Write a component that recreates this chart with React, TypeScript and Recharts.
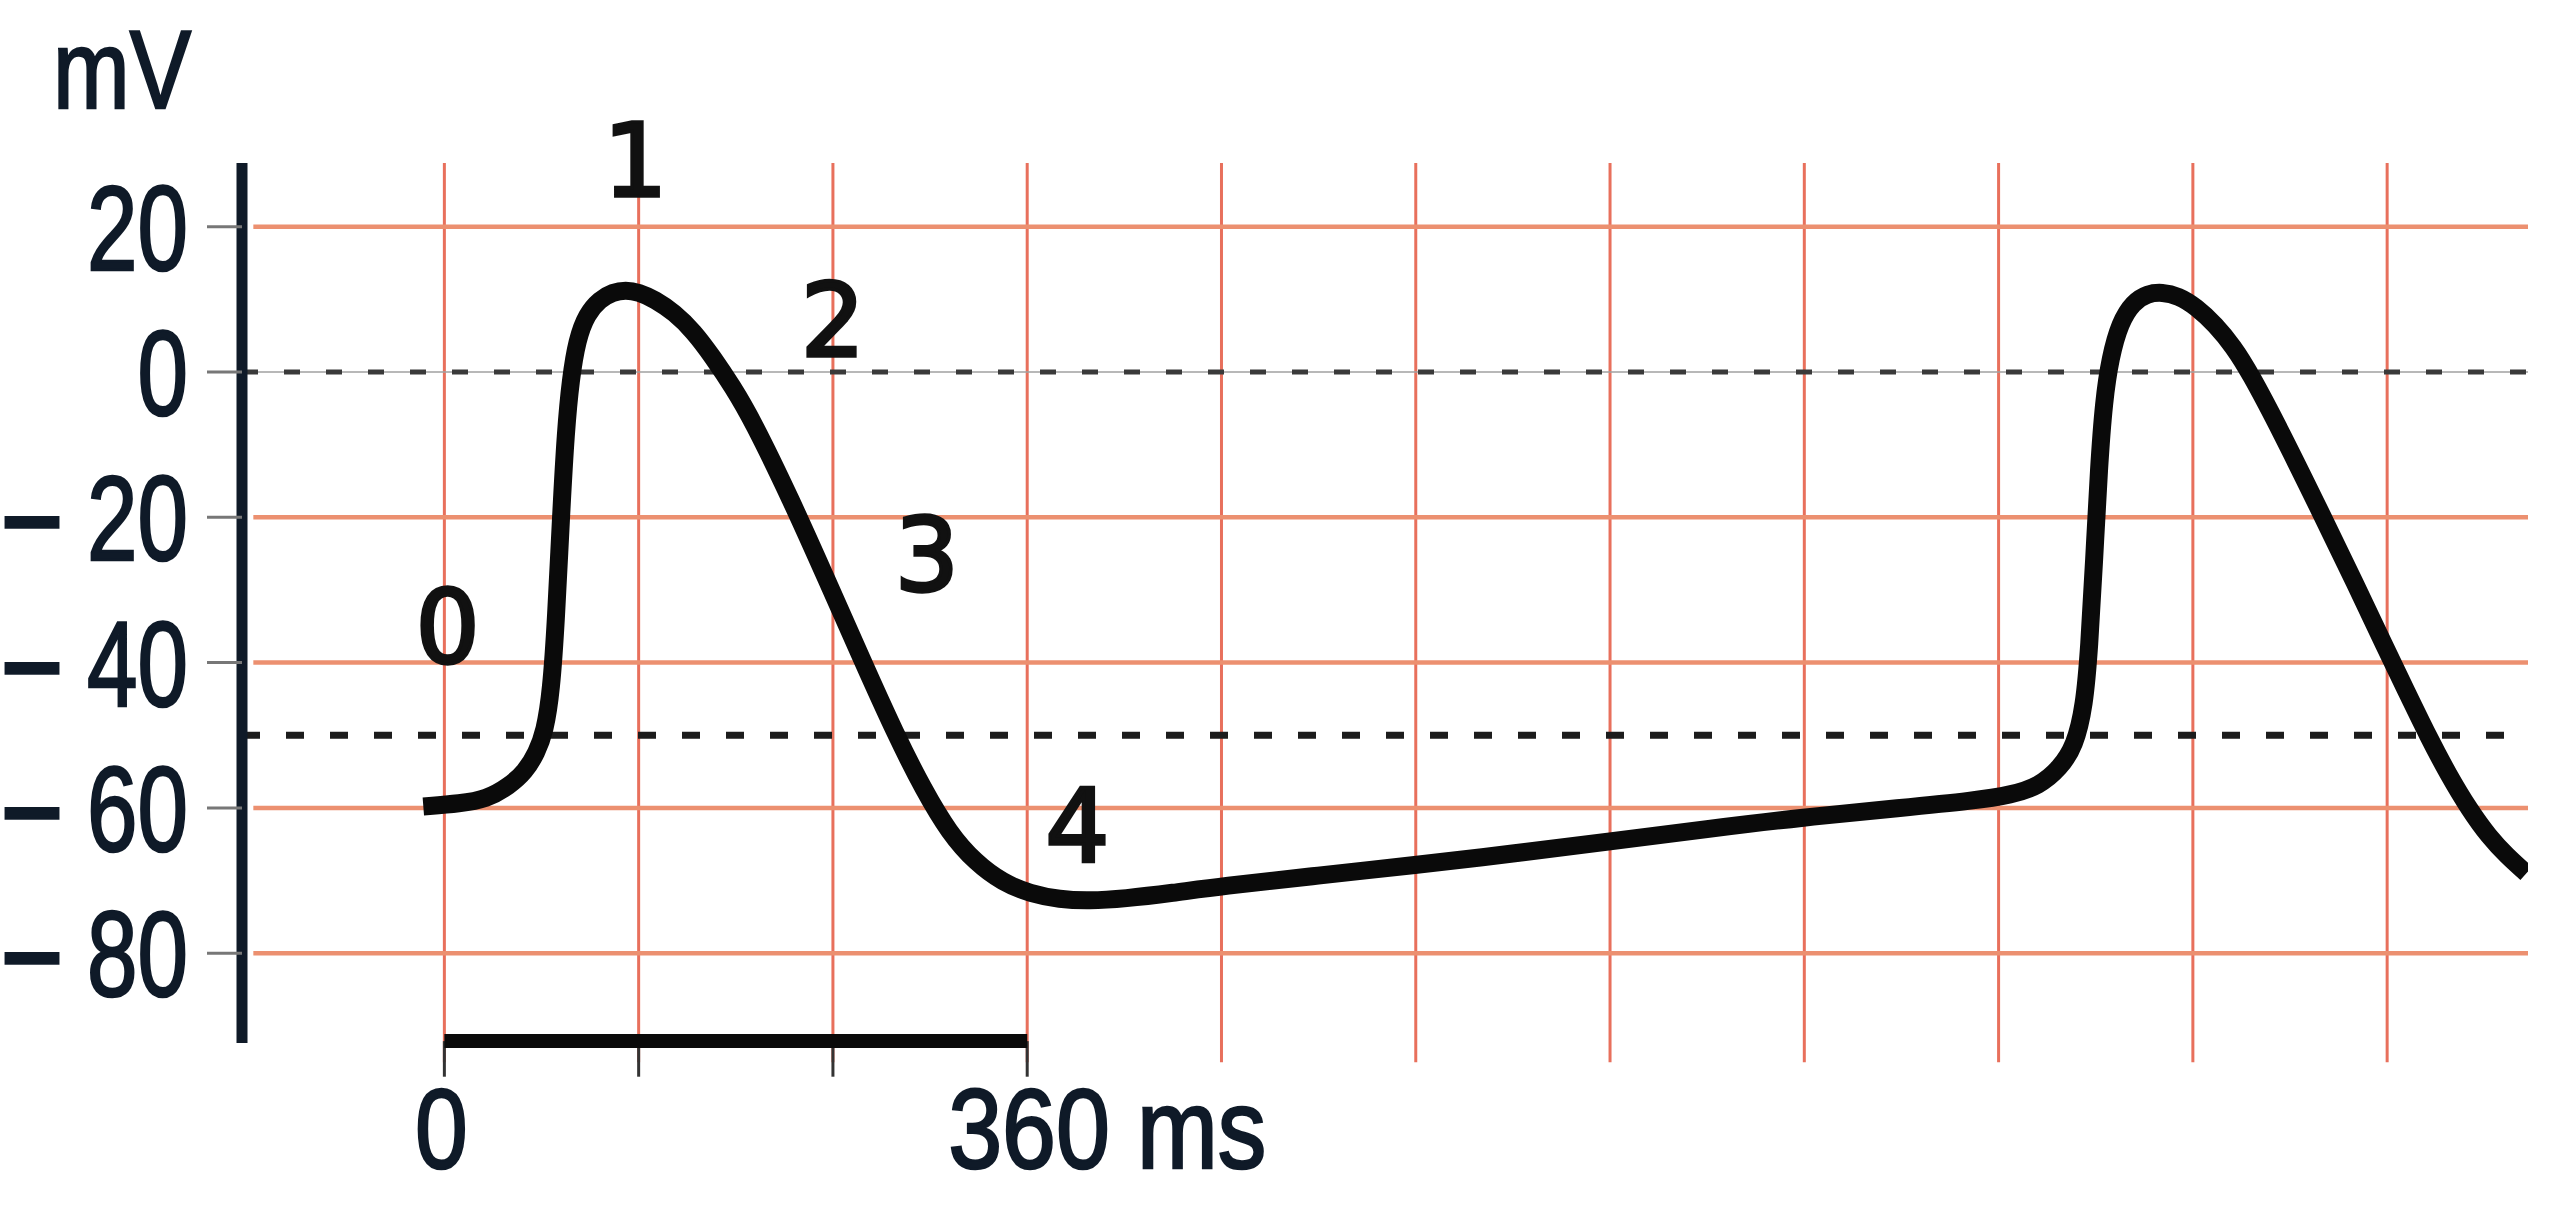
import React from 'react';
import { ComposedChart, Line, XAxis, YAxis, ReferenceLine, ReferenceDot } from 'recharts';

// ---- data (time in ms, membrane potential in mV) ----
const timeMs = [
  -13, 10, 26, 40, 50, 57, 62, 66, 69, 72, 75, 78, 82, 88, 96, 104, 112, 120, 130, 142,
  154, 166, 178, 190, 214, 236, 258, 279, 296, 312, 328, 345, 362, 380, 398, 420, 450,
  479, 540, 599, 660, 720, 780, 839, 900, 945, 968, 985, 998, 1007, 1013, 1016, 1019,
  1022, 1025, 1029, 1035, 1043, 1052, 1061, 1071, 1082, 1094, 1105, 1115, 1134, 1160,
  1180, 1199, 1212, 1225, 1238, 1251, 1263, 1274, 1286,
];
const voltageMv = [
  -59.8, -59.4, -58.8, -57, -55, -52.4, -49.5, -44, -34, -20, -8, -1, 4.5, 8, 10, 11,
  11.3, 11, 10, 8.2, 5.6, 2, -2, -6.5, -17.5, -28.5, -39.6, -50, -57.5, -63.5, -67.5,
  -70.3, -71.8, -72.6, -72.8, -72.5, -71.7, -70.8, -69.3, -67.9, -66.3, -64.6, -62.9,
  -61.3, -60, -59, -58.2, -57, -54.5, -51.5, -46, -38, -26, -13, -4, 2, 6.8, 9.6, 10.8,
  11, 10.5, 9, 6.5, 3.5, 0, -8, -19.8, -29, -38, -44, -50, -55.5, -60.3, -64, -66.6, -69,
];

const yTicks = [20, 0, -20, -40, -60, -80];
const xTicks = [0, 360];
const xTickUnit = 'ms';
const yUnit = 'mV';

const gridTimes = [0, 120, 240, 360, 480, 600, 720, 840, 960, 1080, 1200];
const gridVolts = [20, -20, -40, -60, -80];
const zeroLineMv = 0;
const thresholdMv = -50;

const scaleBarStart = 0;
const scaleBarEnd = 360;
const scaleBarTicks = [0, 120, 240, 360];

const phaseNames = ['0', '1', '2', '3', '4'];
const phaseTimes = [2, 118, 240, 298, 391];
const phaseVolts = [-35, 29.3, 7.3, -25, -62.4];

const X_DOMAIN: [number, number] = [-125, 1287];
const Y_DOMAIN: [number, number] = [-92.36, 28.77];
const GRID_TOP_MV = 28.77;
const GRID_BOTTOM_MV = -95;
const SCALE_BAR_MV = -92.1;
const SCALE_TICK_BOTTOM_MV = -97;
const GRID_LEFT_MS = -118;
const GRID_RIGHT_MS = 1287;

const data = timeMs.map((t, i) => ({ t, v: voltageMv[i] }));

const INK = '#0f1a28';
const H_GRID = '#ec9070';
const V_GRID = '#e8705c';
const SANS = "'Liberation Sans Narrow', 'Liberation Sans', Arial, sans-serif";

const YTick = (props: any) => {
  const { x, y, payload } = props;
  const val: number = payload.value;
  const digits = String(Math.abs(val));
  return (
    <g>
      {val < 0 && (
        <text
          x={x - 188}
          y={y + 44}
          fontFamily="'Liberation Sans', Arial, sans-serif"
          fontWeight="bold"
          fontSize={116}
          fill={INK}
          textLength={64}
          lengthAdjust="spacingAndGlyphs"
        >
          −
        </text>
      )}
      <text
        x={x}
        y={y + 43}
        textAnchor="end"
        fontFamily={SANS}
        fontSize={121}
        fill={INK}
        stroke={INK}
        strokeWidth={2.5}
        textLength={digits.length * 50.5}
        lengthAdjust="spacingAndGlyphs"
      >
        {digits}
      </text>
    </g>
  );
};

const XTick = (props: any) => {
  const { x, y, payload } = props;
  const val: number = payload.value;
  const digits = String(val);
  const isLast = val === xTicks[xTicks.length - 1];
  const digitsW = digits.length * 52.7;
  if (!isLast) {
    return (
      <text
        x={x - 3}
        y={y + 125}
        textAnchor="middle"
        fontFamily={SANS}
        fontSize={113}
        fill={INK}
        stroke={INK}
        strokeWidth={2.5}
        textLength={digitsW}
        lengthAdjust="spacingAndGlyphs"
      >
        {digits}
      </text>
    );
  }
  return (
    <text
      x={x - digitsW / 2}
      y={y + 125}
      textAnchor="start"
      fontFamily={SANS}
      fontSize={113}
      fill={INK}
      stroke={INK}
      strokeWidth={2.5}
      textLength={318}
      lengthAdjust="spacingAndGlyphs"
    >
      {`${digits} ${xTickUnit}`}
    </text>
  );
};

const phaseShape = (label: string) => (p: any) => (
  <text
    x={p.cx}
    y={p.cy + 37}
    textAnchor="middle"
    fontFamily="'DejaVu Sans', sans-serif"
    fontSize={101}
    fill="#111"
    stroke="#111"
    strokeWidth={3.5}
  >
    {label}
  </text>
);

export default function App() {
  return (
    <div style={{ position: 'absolute', left: 0, top: 0, width: 2560, height: 1212, background: '#fff' }}>
      <ComposedChart
        width={2560}
        height={1212}
        data={data}
        margin={{ top: 163, right: 32, bottom: 109, left: 0 }}
      >
        <XAxis
          dataKey="t"
          type="number"
          domain={X_DOMAIN}
          allowDataOverflow
          ticks={xTicks}
          axisLine={false}
          tickLine={false}
          tickSize={0}
          tickMargin={0}
          height={60}
          tick={<XTick />}
          interval={0}
        />
        <YAxis
          type="number"
          domain={Y_DOMAIN}
          allowDataOverflow
          ticks={yTicks}
          width={242}
          axisLine={{ stroke: INK, strokeWidth: 11 }}
          tickLine={{ stroke: '#777', strokeWidth: 3 }}
          tickSize={35}
          tickMargin={19}
          tick={<YTick />}
          interval={0}
        />

        {gridTimes.map((t) => (
          <ReferenceLine
            key={'vg' + t}
            segment={[{ x: t, y: GRID_TOP_MV }, { x: t, y: GRID_BOTTOM_MV }]}
            stroke={V_GRID}
            strokeWidth={3}
            ifOverflow="visible"
          />
        ))}
        {gridVolts.map((v) => (
          <ReferenceLine
            key={'hg' + v}
            segment={[{ x: GRID_LEFT_MS, y: v }, { x: GRID_RIGHT_MS, y: v }]}
            stroke={H_GRID}
            strokeWidth={4.5}
            ifOverflow="visible"
          />
        ))}
        <ReferenceLine
          segment={[{ x: X_DOMAIN[0], y: zeroLineMv }, { x: GRID_RIGHT_MS, y: zeroLineMv }]}
          stroke="#a0a0a0"
          strokeWidth={1.5}
          ifOverflow="visible"
        />
        <ReferenceLine
          segment={[{ x: X_DOMAIN[0], y: zeroLineMv }, { x: GRID_RIGHT_MS, y: zeroLineMv }]}
          stroke="#3a3a3a"
          strokeWidth={5}
          strokeDasharray="16 26"
          ifOverflow="visible"
        />
        <ReferenceLine
          segment={[{ x: X_DOMAIN[0], y: thresholdMv }, { x: GRID_RIGHT_MS, y: thresholdMv }]}
          stroke="#1c1c1c"
          strokeWidth={7}
          strokeDasharray="18 26"
          ifOverflow="visible"
        />

        {scaleBarTicks.map((t) => (
          <ReferenceLine
            key={'sbt' + t}
            segment={[{ x: t, y: SCALE_BAR_MV }, { x: t, y: SCALE_TICK_BOTTOM_MV }]}
            stroke="#333"
            strokeWidth={3}
            ifOverflow="visible"
          />
        ))}
        <ReferenceLine
          segment={[{ x: scaleBarStart, y: SCALE_BAR_MV }, { x: scaleBarEnd, y: SCALE_BAR_MV }]}
          stroke="#0a0a0a"
          strokeWidth={14}
          ifOverflow="visible"
        />

        <Line
          type="basis"
          dataKey="v"
          stroke="#0a0a0a"
          strokeWidth={18}
          strokeLinejoin="round"
          dot={false}
          activeDot={false}
          isAnimationActive={false}
        />

        {phaseNames.map((n, i) => (
          <ReferenceDot
            key={'ph' + n}
            x={phaseTimes[i]}
            y={phaseVolts[i]}
            r={0}
            ifOverflow="visible"
            shape={phaseShape(n)}
          />
        ))}
      </ComposedChart>
      <svg
        width={2560}
        height={1212}
        style={{ position: 'absolute', left: 0, top: 0, pointerEvents: 'none' }}
      >
        <text
          x={53}
          y={108}
          fontFamily={SANS}
          fontSize={112}
          fill={INK}
          stroke={INK}
          strokeWidth={2.5}
          textLength={138}
          lengthAdjust="spacingAndGlyphs"
        >
          {yUnit}
        </text>
      </svg>
    </div>
  );
}
